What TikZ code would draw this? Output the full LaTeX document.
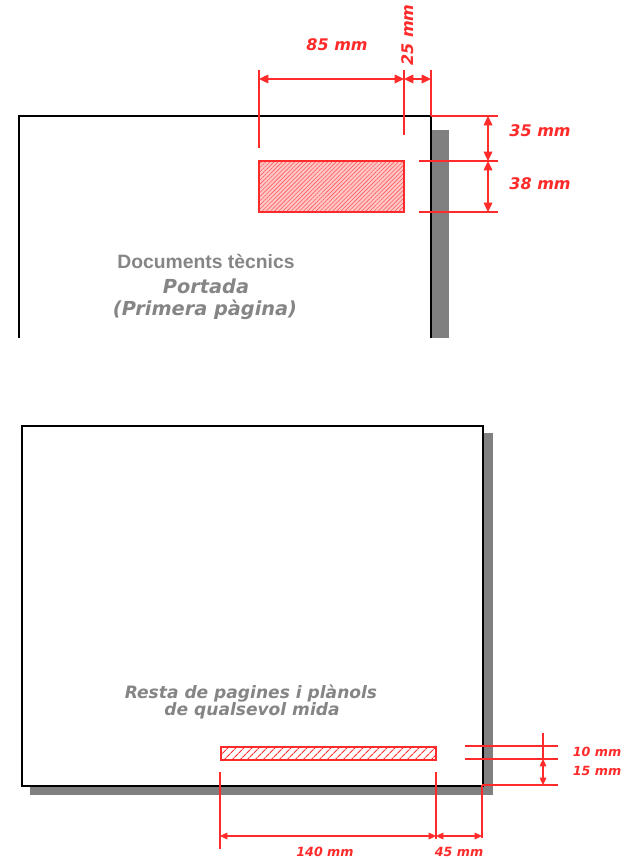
\documentclass[tikz,border=0pt]{standalone}
\usepackage{fontspec}
\setmainfont{DejaVu Sans}
\newfontfamily\arialfont{Liberation Sans}
\usetikzlibrary{patterns.meta,arrows.meta}
\definecolor{dimred}{HTML}{FF2A2A}
\definecolor{txtgray}{HTML}{858585}
\definecolor{shadowgray}{HTML}{808080}
\tikzset{
  ext/.style={draw=dimred, line width=0.8pt},
  dimarr/.style={draw=dimred, line width=1pt,
    {Triangle[length=7pt,width=6.5pt]}-{Triangle[length=7pt,width=6.5pt]}},
  smallarr/.style={draw=dimred, line width=0.9pt,
    {Triangle[length=5.5pt,width=5pt]}-{Triangle[length=5.5pt,width=5pt]}},
  biglbl/.style={text=dimred, font=\bfseries\itshape\fontsize{12}{14}\selectfont, inner sep=0},
  smalllbl/.style={text=dimred, font=\bfseries\itshape\fontsize{9.5}{11}\selectfont, inner sep=0},
  pageline/.style={draw=black, line width=1.5pt},
  shadowfill/.style={fill=shadowgray, draw=none},
  graytxt/.style={text=txtgray, align=center, inner sep=0},
}
\begin{document}
\begin{tikzpicture}[x=0.75pt,y=-0.75pt]
\useasboundingbox (0,0) rectangle (625,859);

% ---------------- Top page ----------------
\fill[shadowfill] (432,130) rectangle (449,338);
\draw[pageline] (19,338) -- (19,116) -- (431,116) -- (431,338);
\coordinate (tpTR) at (431,116);

% red hatched box
\fill[red!22] (259,161) rectangle (404,212);
\node[draw=dimred, line width=1.5pt,
      pattern={Lines[angle=45,distance=2.2pt,line width=0.45pt]}, pattern color=red!65,
      minimum width=108.75pt, minimum height=38.25pt, inner sep=0, anchor=north west]
      (tbox) at (259,161) {};

% horizontal dimension (top)
\coordinate (a1) at (259,70);  \coordinate (a1b) at (259,148);
\coordinate (a2) at (404,70);  \coordinate (a2b) at (404,135);
\coordinate (a3) at (431,70);
\draw[ext] (a1) -- (a1b);
\draw[ext] (a2) -- (a2b);
\draw[ext] (a3) -- (tpTR);
\coordinate (d1) at (259,79); \coordinate (d2) at (404,79); \coordinate (d3) at (431,79);
\draw[dimarr] (d1) -- (d2);
\draw[dimarr] (d2) -- (d3);
\node[biglbl] (l85) at (337,45) {85 mm};
\node[biglbl, rotate=90] (l25) at (408,35) {25 mm};

% vertical dimension (top right)
\coordinate (h1e) at (498,116);
\coordinate (h2s) at (419,161); \coordinate (h2e) at (498,161);
\coordinate (h3s) at (419,212); \coordinate (h3e) at (498,212);
\draw[ext] (tpTR) -- (h1e);
\draw[ext] (h2s) -- (h2e);
\draw[ext] (h3s) -- (h3e);
\coordinate (v1) at (488,116); \coordinate (v2) at (488,161); \coordinate (v3) at (488,212);
\draw[dimarr] (v1) -- (v2);
\draw[dimarr] (v2) -- (v3);
\node[biglbl] (l35) at (540,131) {35 mm};
\node[biglbl] (l38) at (540,184) {38 mm};

% texts top
\node[graytxt, font=\arialfont\bfseries\fontsize{14.5}{16}\selectfont] (t1) at (206,262) {Documents tècnics};
\node[graytxt, font=\bfseries\itshape\fontsize{14.5}{16}\selectfont] (t2) at (206,286) {Portada};
\node[graytxt, font=\bfseries\itshape\fontsize{14.5}{16}\selectfont] (t3) at (205,310) {(Primera pàgina)};

% ---------------- Bottom page ----------------
\fill[shadowfill] (30,433) rectangle (493,795);
\node[pageline, fill=white, minimum width=345.75pt, minimum height=270pt, inner sep=0, anchor=north west]
  (bp) at (21,425) {};
\coordinate (bpBR) at (482,785);

\node[draw=dimred, line width=1.5pt, fill=white,
      pattern={Lines[angle=45,distance=4pt,line width=0.9pt]}, pattern color=dimred,
      minimum width=161.25pt, minimum height=9.75pt, inner sep=0, anchor=north west]
      (bbox) at (220,746) {};

\node[graytxt, font=\bfseries\itshape\fontsize{12.8}{14}\selectfont] (t4) at (251,694) {Resta de pagines i plànols};
\node[graytxt, font=\bfseries\itshape\fontsize{12.8}{14}\selectfont] (t5) at (252,711) {de qualsevol mida};

% bottom horizontal dimension
\coordinate (b1) at (220,772); \coordinate (b1e) at (220,849);
\coordinate (b2) at (436,772); \coordinate (b2e) at (436,839);
\coordinate (b3e) at (482,838);
\draw[ext] (b1) -- (b1e);
\draw[ext] (b2) -- (b2e);
\draw[ext] (bpBR) -- (b3e);
\coordinate (e1) at (220,836); \coordinate (e2) at (436,836); \coordinate (e3) at (482,836);
\draw[smallarr] (e1) -- (e2);
\draw[smallarr] (e2) -- (e3);
\node[smalllbl] (l140) at (325,852) {140 mm};
\node[smalllbl] (l45) at (459,852) {45 mm};

% bottom right vertical dimension
\coordinate (r1s) at (465,746); \coordinate (r1e) at (558,746);
\coordinate (r2s) at (465,759); \coordinate (r2e) at (558,759);
\coordinate (r3e) at (558,785);
\draw[ext] (r1s) -- (r1e);
\draw[ext] (r2s) -- (r2e);
\draw[ext] (bpBR) -- (r3e);
\coordinate (s0) at (543,733); \coordinate (s1) at (543,759); \coordinate (s2) at (543,785);
\draw[ext] (s0) -- (s1);
\draw[smallarr] (s1) -- (s2);
\node[smalllbl] (l10) at (597,752) {10 mm};
\node[smalllbl] (l15) at (597,771) {15 mm};
\end{tikzpicture}
\end{document}
